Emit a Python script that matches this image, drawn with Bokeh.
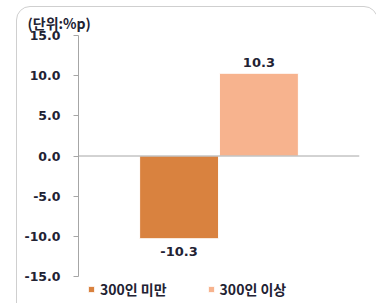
from bokeh.plotting import figure
from bokeh.models import (ColumnDataSource, Range1d, Span, Legend, LegendItem,
                          FixedTicker, NumeralTickFormatter, LabelSet, InlineStyleSheet)
from bokeh.core.properties import value
from bokeh.transform import dodge
from bokeh.embed import file_html
from bokeh.resources import INLINE

# data
series = ["300인 미만", "300인 이상"]
values = [-10.3, 10.3]
colors = ["#D9823F", "#F7B38E"]
y_ticks = [-15, -10, -5, 0, 5, 10, 15]
y_lo, y_hi = -15, 15
unit_text = "(단위:%p)"

FONT = "DejaVu Sans"
KFONT = "Noto Sans CJK KR"
TXT = "#222233"

# frame: top at 35px, -15 at 276px, frame extends to 303px to hold the legend
px_per_unit = (276 - 35) / (y_hi - y_lo)
y_start = y_lo - (303 - 276) / px_per_unit

p = figure(width=376, height=303, output_backend="svg", toolbar_location=None,
           x_range=Range1d(-0.5, 0.5), y_range=Range1d(y_start, y_hi),
           min_border_left=78, min_border_right=17, min_border_top=35, min_border_bottom=0,
           title=unit_text)
p.outline_line_color = None
p.grid.visible = False
p.xaxis.visible = False

p.title.text_font = KFONT
p.title.text_font_style = "bold"
p.title.text_font_size = "14px"
p.title.text_color = TXT
p.title.align = "left"
p.title.offset = -51
p.title.standoff = 6

offsets = [-0.142, 0.142]
bar_w = 0.281
renderers = []
for i, (name, val, col) in enumerate(zip(series, values, colors)):
    src = ColumnDataSource(dict(x=[0.0], top=[val], label=[f"{val:.1f}"]))
    r = p.vbar(x=dodge("x", offsets[i], range=p.x_range), top="top", bottom=0, width=bar_w,
               source=src, fill_color=col, line_color="white", line_width=1)
    renderers.append(r)
    ls = LabelSet(x=dodge("x", offsets[i], range=p.x_range), y="top", text="label", source=src,
                  y_offset=6 if val > 0 else -8,
                  text_align="center", text_baseline="bottom" if val > 0 else "top",
                  text_font=value(FONT), text_font_style="bold", text_font_size="13px",
                  text_color=TXT)
    p.add_layout(ls)

p.add_layout(Span(location=0, dimension="width", line_color="#a6a6a6", line_width=1))

ax = p.yaxis[0]
ax.bounds = (y_lo, y_hi)
ax.ticker = FixedTicker(ticks=y_ticks)
ax.formatter = NumeralTickFormatter(format="0.0")
ax.axis_line_color = "#a6a6a6"
ax.major_tick_line_color = "#a6a6a6"
ax.major_tick_out = 5
ax.major_tick_in = 0
ax.minor_tick_line_color = None
ax.major_label_standoff = 13
ax.major_label_text_font = FONT
ax.major_label_text_font_style = "bold"
ax.major_label_text_font_size = "12.5px"
ax.major_label_text_color = TXT

legend = Legend(items=[LegendItem(label=s, renderers=[r]) for s, r in zip(series, renderers)],
                orientation="horizontal", location=(9, 4), border_line_color=None,
                background_fill_alpha=0, glyph_width=8, glyph_height=8, spacing=40,
                padding=0, margin=0, label_standoff=5, label_height=14,
                label_text_font=KFONT, label_text_font_style="bold",
                label_text_font_size="14px", label_text_color=TXT)
p.add_layout(legend)

p.stylesheets = [InlineStyleSheet(css=""":host::after {
  content: ""; position: absolute; left: 16px; top: 6px; width: 362px; height: 320px;
  border: 1.5px solid #cfcfcf; border-radius: 14px; pointer-events: none; box-sizing: border-box;
}""")]

open("out.html", "w").write(file_html(p, INLINE))
